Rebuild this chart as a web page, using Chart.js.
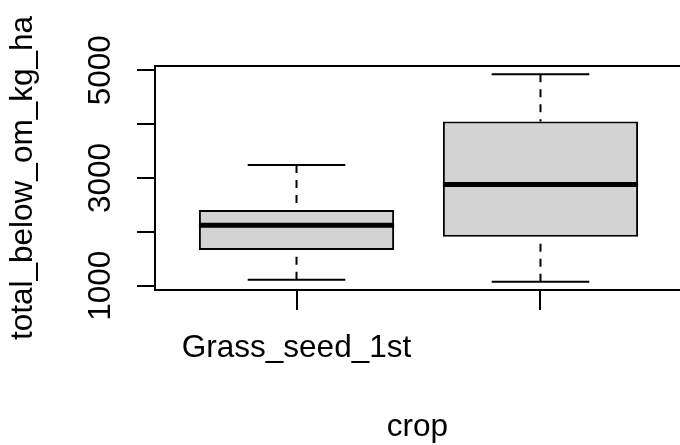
<!DOCTYPE html>
<html>
<head>
<meta charset="utf-8">
<script src="https://cdn.jsdelivr.net/npm/chart.js@4.4.1/dist/chart.umd.min.js"></script>
<style>
  html, body { margin: 0; padding: 0; background: #fff; overflow: hidden; }
  canvas { display: block; }
</style>
</head>
<body>
<!-- the plot runs slightly past the right edge of the window -->
<canvas id="boxChart" width="682" height="445"></canvas>
<script>
// Five-number summaries of below-ground organic matter per crop
const crops = ['Grass_seed_1st', 'Grass_seed_2nd_year'];
const whiskerLow = [1111, 1074];
const q1 = [1661, 1907];
const median = [2124, 2877];
const q3 = [2407, 4050];
const whiskerHigh = [3240, 4926];
const yTicks = [1000, 2000, 3000, 4000, 5000];

const xTitle = 'crop';
const yTitle = 'total_below_om_kg_ha';

const FONT = '31.5px "Liberation Sans", Arial, sans-serif';

// axis limits padded by 4% like base graphics
const yLo = Math.min(...whiskerLow);
const yHi = Math.max(...whiskerHigh);
const yPad = (yHi - yLo) * 0.04;
const xPad = crops.length * 0.04;

const boxplotExtras = {
  id: 'boxplotExtras',
  afterDatasetsDraw(chart) {
    const { ctx, scales: { x, y } } = chart;
    const bars = chart.getDatasetMeta(0).data;
    ctx.save();
    ctx.strokeStyle = '#000';
    ctx.lineCap = 'butt';
    crops.forEach((name, i) => {
      const cx = x.getPixelForValue(i + 1);
      const half = bars[i].width / 2;

      // dashed whiskers, drawn from the whisker end towards the box
      ctx.lineWidth = 2;
      ctx.setLineDash([8, 7]);
      ctx.beginPath();
      ctx.moveTo(cx, y.getPixelForValue(whiskerHigh[i]));
      ctx.lineTo(cx, y.getPixelForValue(q3[i]));
      ctx.moveTo(cx, y.getPixelForValue(whiskerLow[i]));
      ctx.lineTo(cx, y.getPixelForValue(q1[i]));
      ctx.stroke();

      // staples
      ctx.setLineDash([]);
      ctx.beginPath();
      [whiskerHigh[i], whiskerLow[i]].forEach(v => {
        const py = y.getPixelForValue(v);
        ctx.moveTo(cx - half / 2, py);
        ctx.lineTo(cx + half / 2, py);
      });
      ctx.stroke();

      // median
      ctx.lineWidth = 5;
      ctx.beginPath();
      const my = y.getPixelForValue(median[i]);
      ctx.moveTo(cx - half, my);
      ctx.lineTo(cx + half, my);
      ctx.stroke();
    });
    ctx.restore();
  },
  afterDraw(chart) {
    const { ctx, chartArea: area, scales: { x, y } } = chart;
    ctx.save();

    // plot frame
    ctx.strokeStyle = '#000';
    ctx.lineWidth = 2;
    ctx.strokeRect(area.left, area.top, area.right - area.left, area.bottom - area.top);

    ctx.fillStyle = '#000';
    ctx.font = FONT;
    const gap = ctx.measureText('m').width;

    // category labels, skipped when they would collide
    ctx.textAlign = 'center';
    ctx.textBaseline = 'alphabetic';
    let lastRight = -Infinity;
    crops.forEach((name, i) => {
      const cx = x.getPixelForValue(i + 1);
      const w = ctx.measureText(name).width;
      if (cx - w / 2 > lastRight + gap) {
        ctx.fillText(name, cx, 357);
        lastRight = cx + w / 2;
      }
    });

    // y tick labels, rotated, skipped when they would collide
    let lastTop = Infinity;
    yTicks.forEach(v => {
      const label = String(v);
      const py = y.getPixelForValue(v);
      const w = ctx.measureText(label).width;
      if (py + w / 2 < lastTop - gap) {
        ctx.save();
        ctx.translate(110, py);
        ctx.rotate(-Math.PI / 2);
        ctx.fillText(label, 0, 0);
        ctx.restore();
        lastTop = py - w / 2;
      }
    });

    // axis titles
    ctx.fillText(xTitle, (area.left + 680) / 2, 436);
    ctx.save();
    ctx.translate(32, (area.top + area.bottom) / 2);
    ctx.rotate(-Math.PI / 2);
    ctx.fillText(yTitle, 0, 0);
    ctx.restore();

    ctx.restore();
  }
};

new Chart(document.getElementById('boxChart'), {
  type: 'bar',
  data: {
    datasets: [{
      data: crops.map((c, i) => ({ x: i + 1, y: [q1[i], q3[i]] })),
      backgroundColor: '#d3d3d3',
      borderColor: '#000',
      borderWidth: 2,
      borderSkipped: false,
      barPercentage: 0.8,
      categoryPercentage: 1
    }]
  },
  options: {
    responsive: false,
    animation: false,
    events: [],
    layout: { padding: { top: 66, left: 0, right: 0, bottom: 0 } },
    plugins: {
      legend: { display: false },
      tooltip: { enabled: false }
    },
    scales: {
      x: {
        type: 'linear',
        offset: false,
        min: 1 - 0.5 - xPad,
        max: crops.length + 0.5 + xPad,
        afterBuildTicks: scale => { scale.ticks = crops.map((c, i) => ({ value: i + 1 })); },
        afterFit: scale => { scale.height = 155; },
        ticks: { display: false },
        border: { display: false },
        grid: {
          offset: false,
          drawOnChartArea: false,
          drawTicks: true,
          tickLength: 20,
          color: '#000',
          lineWidth: 2
        }
      },
      y: {
        min: yLo - yPad,
        max: yHi + yPad,
        afterBuildTicks: scale => { scale.ticks = yTicks.map(v => ({ value: v })); },
        afterFit: scale => { scale.width = 155; },
        ticks: { display: false },
        border: { display: false },
        grid: {
          drawOnChartArea: false,
          drawTicks: true,
          tickLength: 18,
          color: '#000',
          lineWidth: 2
        }
      }
    }
  },
  plugins: [boxplotExtras]
});
</script>
</body>
</html>
